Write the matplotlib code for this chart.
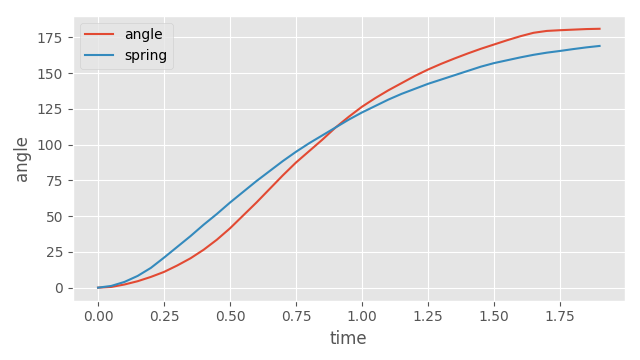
import matplotlib
matplotlib.use("Agg")
import matplotlib.pyplot as plt

plt.style.use("ggplot")

time = [0.0, 0.05, 0.1, 0.15, 0.2, 0.25, 0.3, 0.35, 0.4, 0.45, 0.5, 0.55, 0.6, 0.65,
        0.7, 0.75, 0.8, 0.85, 0.9, 0.95, 1.0, 1.05, 1.1, 1.15, 1.2, 1.25, 1.3, 1.35,
        1.4, 1.45, 1.5, 1.55, 1.6, 1.65, 1.7, 1.75, 1.8, 1.85, 1.9]
angle = [0, 0.5, 2.2, 4.5, 7.5, 11, 15.5, 20.5, 26.5, 33.5, 41.5, 50.5, 59.5, 69,
         78.5, 87.5, 95.5, 103.5, 112, 119.5, 126.5, 132.5, 138, 143, 148, 152.5, 156.5, 160.2,
         163.7, 167, 170, 173, 175.8, 178.2, 179.5, 180, 180.4, 180.8, 181]
spring = [0, 1.2, 4, 8.2, 13.8, 21, 28.5, 36, 44, 51.5, 59.5, 67, 74.5, 81.5,
          88.5, 95, 101, 106.5, 112, 117.5, 122.5, 127, 131.5, 135.5, 139, 142.5, 145.5, 148.5,
          151.5, 154.5, 157, 159, 161, 162.8, 164.3, 165.5, 166.8, 168, 169]

fig, ax = plt.subplots(figsize=(6.4, 3.6), dpi=100)
ax.plot(time, angle, label="angle")
ax.plot(time, spring, label="spring")
ax.set_xlabel("time")
ax.set_ylabel("angle")
ax.legend(loc="upper left")
fig.subplots_adjust(left=0.114, right=0.976, top=0.956, bottom=0.165)
fig.savefig("out.png", dpi=100)
